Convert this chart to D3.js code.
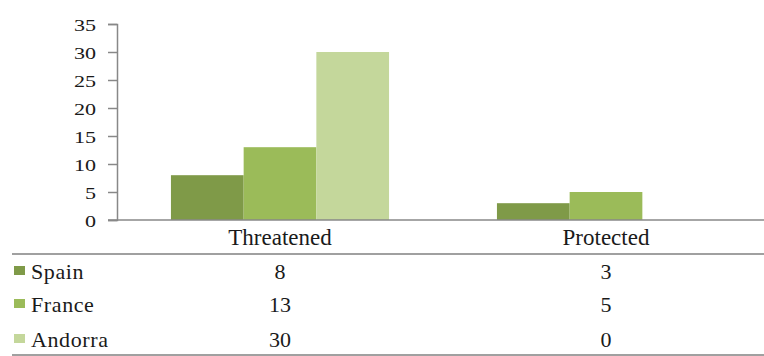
<!DOCTYPE html>
<html>
<head>
<meta charset="utf-8">
<script src="https://cdn.jsdelivr.net/npm/d3@7"></script>
</head>
<body style="margin:0;background:#fff">
<script>
// Species counts by country, threatened vs protected
const categories = ["Threatened", "Protected"];
const seriesNames = ["Spain", "France", "Andorra"];
const spainValues = [8, 3];
const franceValues = [13, 5];
const andorraValues = [30, 0];
const yTicks = [0, 5, 10, 15, 20, 25, 30, 35];
const seriesColors = ["#7f9a48", "#9bbb59", "#c4d79b"];

const series = [
  { name: seriesNames[0], values: spainValues, color: seriesColors[0] },
  { name: seriesNames[1], values: franceValues, color: seriesColors[1] },
  { name: seriesNames[2], values: andorraValues, color: seriesColors[2] }
];

const FONT = "Liberation Serif";
const INK = "#1a1a1a";
const W = 764, H = 356;
const plotLeft = 117, plotRight = 769, plotTop = 24, plotBottom = 220;

function draw() {
  const svg = d3.select("body").append("svg")
    .attr("width", W).attr("height", H)
    .style("display", "block");

  const x = d3.scaleBand().domain(categories).range([plotLeft, plotRight]).paddingInner(0).paddingOuter(0);
  const xInner = d3.scaleBand().domain(seriesNames).range([0, x.bandwidth()]).paddingInner(0).paddingOuter(0.742);
  const y = d3.scaleLinear().domain([0, 35]).range([plotBottom, plotTop]);

  // Bars
  const groups = svg.append("g").selectAll("g")
    .data(series).join("g")
    .attr("fill", d => d.color);

  groups.selectAll("rect")
    .data(d => d.values.map((v, i) => ({ name: d.name, cat: categories[i], v })))
    .join("rect")
    .attr("x", d => x(d.cat) + xInner(d.name))
    .attr("width", xInner.bandwidth())
    .attr("y", d => y(d.v))
    .attr("height", d => y(0) - y(d.v));

  // Y axis
  const yAxis = d3.axisLeft(y).tickValues(yTicks).tickSize(9).tickPadding(12);
  const yg = svg.append("g").attr("transform", `translate(${plotLeft},0)`).call(yAxis)
    .attr("font-family", FONT);
  yg.select(".domain").attr("stroke", "#888").attr("stroke-width", 1.5);
  yg.selectAll(".tick line").attr("stroke", "#888").attr("stroke-width", 1.5);
  yg.selectAll(".tick text")
    .attr("font-size", 17)
    .attr("fill", INK)
    .attr("dy", "0.36em")
    .each(function () {
      const t = d3.select(this);
      const xx = +t.attr("x");
      // widen glyphs horizontally around the right anchor
      t.attr("x", xx / 1.3).attr("transform", "scale(1.3,1)");
    });

  // Baseline / table lines
  const lineColor = "#a0a0a0";
  svg.append("line").attr("x1", plotLeft - 9).attr("x2", W).attr("y1", plotBottom).attr("y2", plotBottom)
    .attr("stroke", "#888").attr("stroke-width", 1.5);
  svg.append("line").attr("x1", 12).attr("x2", W).attr("y1", 254).attr("y2", 254)
    .attr("stroke", lineColor).attr("stroke-width", 2);
  svg.append("line").attr("x1", 12).attr("x2", W).attr("y1", 355).attr("y2", 355)
    .attr("stroke", lineColor).attr("stroke-width", 2);

  // Category labels (table header)
  svg.append("g").selectAll("text")
    .data(categories).join("text")
    .attr("x", d => x(d) + x.bandwidth() / 2)
    .attr("y", 245)
    .attr("text-anchor", "middle")
    .attr("font-family", FONT)
    .attr("font-size", 23)
    .attr("fill", INK)
    .text(d => d);

  // Table rows
  const rowBaselines = [279, 312, 347];
  const rows = svg.append("g").selectAll("g")
    .data(series).join("g")
    .attr("transform", (d, i) => `translate(0,${rowBaselines[i]})`);

  rows.append("rect")
    .attr("x", 14).attr("y", -13).attr("width", 11).attr("height", 9)
    .attr("fill", d => d.color);

  rows.append("text")
    .attr("x", 31).attr("y", 0)
    .attr("font-family", FONT)
    .attr("font-size", 22)
    .attr("letter-spacing", 0.6)
    .attr("fill", INK)
    .text(d => d.name);

  rows.selectAll("text.val")
    .data(d => d.values.map((v, i) => ({ v, cat: categories[i] })))
    .join("text")
    .attr("class", "val")
    .attr("x", d => x(d.cat) + x.bandwidth() / 2)
    .attr("y", 0)
    .attr("text-anchor", "middle")
    .attr("font-family", FONT)
    .attr("font-size", 22)
    .attr("fill", INK)
    .text(d => d.v);
}

// make sure the serif face is ready before laying out text
if (document.fonts && document.fonts.load) {
  document.fonts.load('22px "Liberation Serif"').then(draw, draw);
} else {
  draw();
}
</script>
</body>
</html>
